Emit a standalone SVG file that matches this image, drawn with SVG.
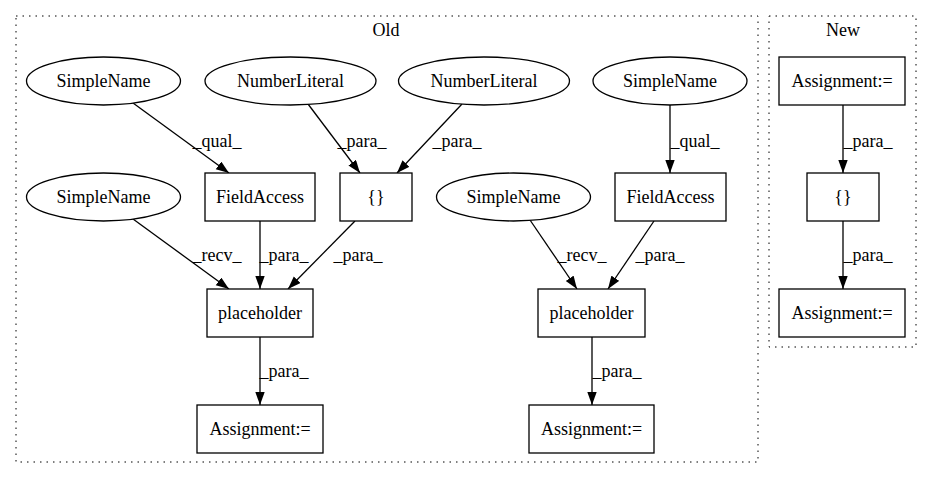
<svg xmlns="http://www.w3.org/2000/svg" width="932" height="480" viewBox="0 0 932 480" font-family="'Liberation Serif', 'Times New Roman', serif">
<style>
text{font-family:'Liberation Serif','Times New Roman',serif;font-size:18px;fill:#000;text-anchor:middle}
.c{fill:none;stroke:#000;stroke-dasharray:1.5,5}
.n{fill:#fff;stroke:#000;stroke-width:1.3}
.e{fill:none;stroke:#000;stroke-width:1.3;marker-end:url(#ah)}
</style>
<defs>
<marker id="ah" markerUnits="userSpaceOnUse" markerWidth="14" markerHeight="10" refX="13" refY="4.7" orient="auto">
<path d="M0,0 L13,4.7 L0,9.4 z" fill="#000"/>
</marker>
</defs>
<rect width="932" height="480" fill="#fff"/>
<g id="cluster_old"><rect class="c" x="16" y="16" width="742" height="446"/><text x="386" y="36">Old</text></g>
<g id="cluster_new"><rect class="c" x="769" y="16" width="147" height="331"/><text x="843" y="36">New</text></g>
<g id="edges">
<line class="e" x1="133" y1="103" x2="229" y2="173"/><text x="217" y="147">_qual_</text>
<line class="e" x1="308" y1="104" x2="360" y2="173"/><text x="362" y="147">_para_</text>
<line class="e" x1="462" y1="104" x2="397" y2="173"/><text x="457" y="147">_para_</text>
<line class="e" x1="670" y1="105" x2="670" y2="173"/><text x="695" y="147">_qual_</text>
<line class="e" x1="133" y1="219" x2="229" y2="289"/><text x="217" y="261">_recv_</text>
<line class="e" x1="260" y1="221" x2="260" y2="289"/><text x="284" y="261">_para_</text>
<line class="e" x1="355" y1="221" x2="288" y2="289"/><text x="358" y="261">_para_</text>
<line class="e" x1="530" y1="220" x2="577" y2="289"/><text x="582" y="261">_recv_</text>
<line class="e" x1="654" y1="221" x2="608" y2="289"/><text x="660" y="261">_para_</text>
<line class="e" x1="260" y1="337" x2="260" y2="405"/><text x="284" y="377">_para_</text>
<line class="e" x1="592" y1="337" x2="592" y2="405"/><text x="617" y="377">_para_</text>
<line class="e" x1="843" y1="105" x2="843" y2="173"/><text x="868" y="147">_para_</text>
<line class="e" x1="843" y1="221" x2="843" y2="289"/><text x="868" y="261">_para_</text>
</g>
<g id="sn1"><ellipse class="n" cx="103.5" cy="81" rx="77" ry="24"/><text x="103.5" y="87">SimpleName</text></g>
<g id="nl1"><ellipse class="n" cx="290.5" cy="81" rx="85.5" ry="24"/><text x="290.5" y="87">NumberLiteral</text></g>
<g id="nl2"><ellipse class="n" cx="484" cy="81" rx="85.5" ry="24"/><text x="484" y="87">NumberLiteral</text></g>
<g id="sn4"><ellipse class="n" cx="670" cy="81" rx="77" ry="24"/><text x="670" y="87">SimpleName</text></g>
<g id="sn2"><ellipse class="n" cx="103.5" cy="197" rx="77" ry="24"/><text x="103.5" y="203">SimpleName</text></g>
<g id="fa1"><rect class="n" x="205" y="173" width="110" height="48"/><text x="260" y="203">FieldAccess</text></g>
<g id="arr1"><rect class="n" x="340" y="173" width="72" height="48"/><text x="376" y="203">{}</text></g>
<g id="sn3"><ellipse class="n" cx="513.5" cy="197" rx="77" ry="24"/><text x="513.5" y="203">SimpleName</text></g>
<g id="fa2"><rect class="n" x="615" y="173" width="111" height="48"/><text x="670.5" y="203">FieldAccess</text></g>
<g id="ph1"><rect class="n" x="207" y="289" width="106" height="48"/><text x="260" y="319">placeholder</text></g>
<g id="ph2"><rect class="n" x="538" y="289" width="107" height="48"/><text x="591.5" y="319">placeholder</text></g>
<g id="as1"><rect class="n" x="197" y="405" width="126" height="48"/><text x="260" y="435">Assignment:=</text></g>
<g id="as2"><rect class="n" x="529" y="405" width="125" height="48"/><text x="591.5" y="435">Assignment:=</text></g>
<g id="nas1"><rect class="n" x="779" y="57" width="126" height="48"/><text x="842" y="87">Assignment:=</text></g>
<g id="narr"><rect class="n" x="807" y="173" width="72" height="48"/><text x="843" y="203">{}</text></g>
<g id="nas2"><rect class="n" x="779" y="289" width="126" height="48"/><text x="842" y="319">Assignment:=</text></g>
</svg>
